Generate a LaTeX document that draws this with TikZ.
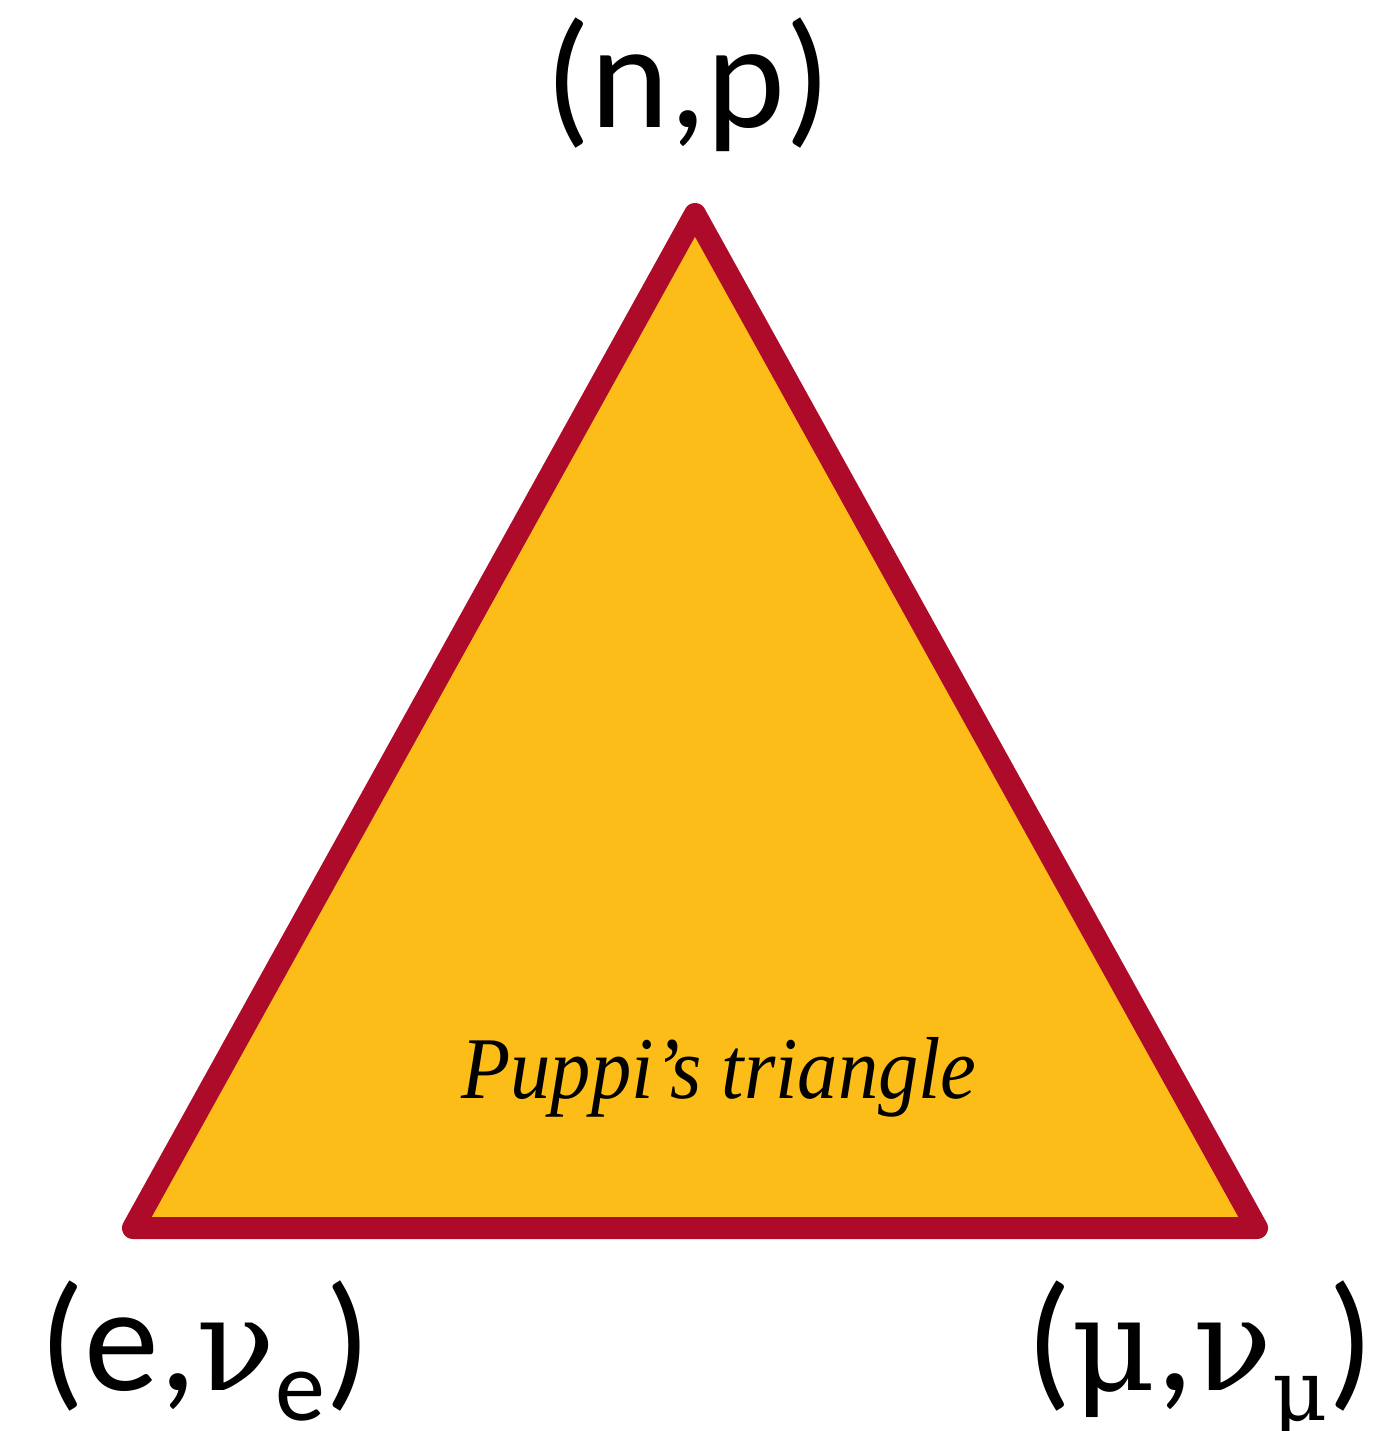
\documentclass[tikz,border=0pt]{standalone}
\usepackage{fontspec}
\setmainfont{Carlito}
\newfontfamily\grk{DejaVu Serif}
\newfontfamily\capfont{Liberation Serif}
\definecolor{tri}{HTML}{FDBD19}
\definecolor{edge}{HTML}{AE0A2A}
\tikzset{
  lbl/.style={anchor=base, inner sep=0pt, font=\fontsize{150}{150}\selectfont},
  captext/.style={anchor=base, inner sep=0pt, font=\fontsize{88}{88}\selectfont\capfont\itshape}
}
\newcommand{\subs}[1]{\raisebox{-0.2em}{\fontsize{100}{100}\selectfont #1}}
\begin{document}
\begin{tikzpicture}[x=1pt,y=-1pt]
\useasboundingbox[fill=white] (0,0) rectangle (1380,1431);
\coordinate (A) at (695,214);
\coordinate (B) at (133,1228);
\coordinate (C) at (1257,1228);
\draw[fill=tri, draw=edge, line width=22pt, line join=round] (A) -- (B) -- (C) -- cycle;
\node[lbl] (np) at (688,128) {(n,p)};
\node[lbl] (ev) at (205,1390) {(e,{\grk\fontsize{130}{130}\selectfont ν}\subs{e})};
\node[lbl] (mv) at (1200,1390) {({\grk\fontsize{130}{130}\selectfont μ},{\grk\fontsize{130}{130}\selectfont ν}\subs{\grk\fontsize{85}{85}\selectfont μ})};
\node[captext] (pt) at (719,1098) {\scalebox{0.915}[1]{Puppi’s triangle}};
\end{tikzpicture}
\end{document}
